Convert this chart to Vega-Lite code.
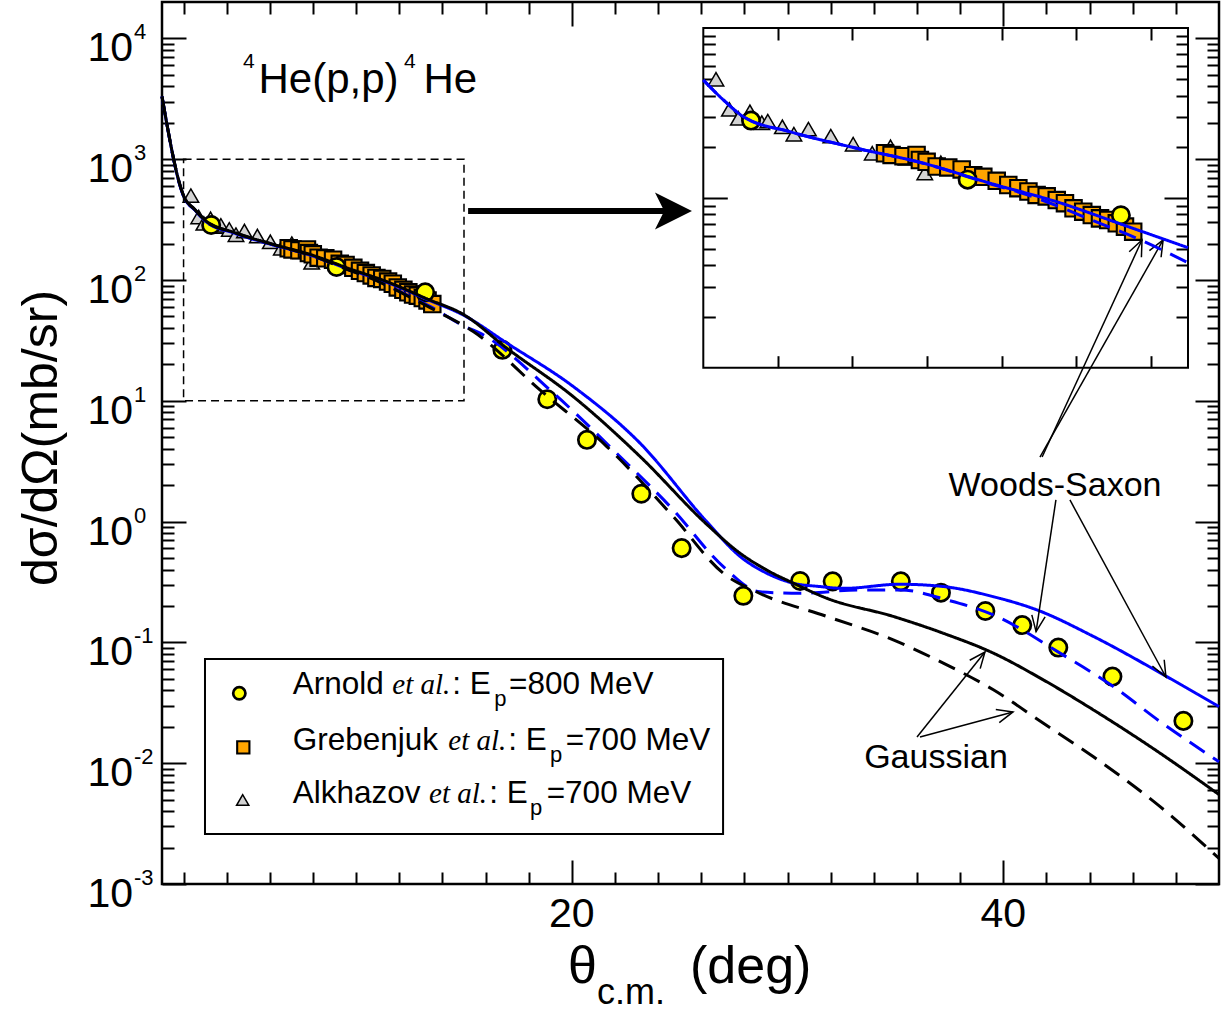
{
  "$schema": "https://vega.github.io/schema/vega-lite/v6.json",
  "width": 1057,
  "height": 882,
  "autosize": {"type": "none"},
  "padding": {"left": 162, "top": 2, "right": 9, "bottom": 127},
  "background": "white",
  "config": {"view": {"stroke": "black", "strokeWidth": 2.5}, "font": "Liberation Sans"},
  "datasets": {
    "curves": [
      {"model":"WS-a","x":1,"y":3300},{"model":"WS-a","x":2,"y":494},{"model":"WS-a","x":2.54,"y":377},{"model":"WS-a","x":3.07,"y":301},{"model":"WS-a","x":4.33,"y":245},{"model":"WS-a","x":6.11,"y":196},{"model":"WS-a","x":7.9,"y":160},{"model":"WS-a","x":9.69,"y":122},{"model":"WS-a","x":11.48,"y":94.8},{"model":"WS-a","x":13.27,"y":69.2},{"model":"WS-a","x":15,"y":50.9},{"model":"WS-a","x":16.98,"y":30.1},{"model":"WS-a","x":20.07,"y":13.1},{"model":"WS-a","x":23.16,"y":4.46},{"model":"WS-a","x":26.25,"y":1.0},{"model":"WS-a","x":27.8,"y":0.514},{"model":"WS-a","x":29.03,"y":0.374},{"model":"WS-a","x":30.27,"y":0.309},{"model":"WS-a","x":31.5,"y":0.29},{"model":"WS-a","x":32.59,"y":0.28},{"model":"WS-a","x":35.21,"y":0.303},{"model":"WS-a","x":37.22,"y":0.29},{"model":"WS-a","x":39.54,"y":0.239},{"model":"WS-a","x":41.55,"y":0.186},{"model":"WS-a","x":44.18,"y":0.112},{"model":"WS-a","x":47.58,"y":0.0521},{"model":"WS-a","x":50,"y":0.0294},
      {"model":"WS-b","x":1,"y":3300},{"model":"WS-b","x":2,"y":494},{"model":"WS-b","x":2.54,"y":377},{"model":"WS-b","x":3.07,"y":301},{"model":"WS-b","x":4.33,"y":245},{"model":"WS-b","x":6.11,"y":196},{"model":"WS-b","x":7.9,"y":160},{"model":"WS-b","x":9.69,"y":121},{"model":"WS-b","x":10.58,"y":106},{"model":"WS-b","x":12.64,"y":70.8},{"model":"WS-b","x":13.63,"y":57.8},{"model":"WS-b","x":15,"y":41.5},{"model":"WS-b","x":15.74,"y":36.3},{"model":"WS-b","x":19.14,"y":11.6},{"model":"WS-b","x":22.23,"y":3.46},{"model":"WS-b","x":24.7,"y":1.25},{"model":"WS-b","x":27.02,"y":0.424},{"model":"WS-b","x":28.72,"y":0.262},{"model":"WS-b","x":30.58,"y":0.255},{"model":"WS-b","x":33.36,"y":0.272},{"model":"WS-b","x":35.21,"y":0.272},{"model":"WS-b","x":37.38,"y":0.225},{"model":"WS-b","x":39.54,"y":0.169},{"model":"WS-b","x":42.63,"y":0.0815},{"model":"WS-b","x":45.1,"y":0.0431},{"model":"WS-b","x":47.27,"y":0.0221},{"model":"WS-b","x":50,"y":0.0103},
      {"model":"G-a","x":1,"y":3300},{"model":"G-a","x":2,"y":500},{"model":"G-a","x":2.54,"y":380},{"model":"G-a","x":3.07,"y":305},{"model":"G-a","x":4.33,"y":248},{"model":"G-a","x":6.11,"y":198},{"model":"G-a","x":7.9,"y":162},{"model":"G-a","x":9.69,"y":124},{"model":"G-a","x":11.48,"y":96},{"model":"G-a","x":13.27,"y":70},{"model":"G-a","x":15,"y":51.5},{"model":"G-a","x":16.98,"y":27.3},{"model":"G-a","x":20.07,"y":10.8},{"model":"G-a","x":23.16,"y":3.46},{"model":"G-a","x":26.25,"y":0.95},{"model":"G-a","x":27.8,"y":0.547},{"model":"G-a","x":29.0,"y":0.40},{"model":"G-a","x":30.27,"y":0.309},{"model":"G-a","x":31.82,"y":0.232},{"model":"G-a","x":34.9,"y":0.164},{"model":"G-a","x":37.22,"y":0.119},{"model":"G-a","x":39.54,"y":0.0815},{"model":"G-a","x":41.86,"y":0.0489},{"model":"G-a","x":44.18,"y":0.0276},{"model":"G-a","x":47.27,"y":0.0121},{"model":"G-a","x":50,"y":0.0055},
      {"model":"G-b","x":1,"y":3300},{"model":"G-b","x":2,"y":500},{"model":"G-b","x":2.54,"y":380},{"model":"G-b","x":3.07,"y":305},{"model":"G-b","x":4.33,"y":248},{"model":"G-b","x":6.11,"y":198},{"model":"G-b","x":7.9,"y":160},{"model":"G-b","x":9.69,"y":120},{"model":"G-b","x":10.58,"y":105},{"model":"G-b","x":12.64,"y":70},{"model":"G-b","x":13.75,"y":55},{"model":"G-b","x":15.43,"y":37.5},{"model":"G-b","x":18.52,"y":12.3},{"model":"G-b","x":21.62,"y":4.18},{"model":"G-b","x":24.7,"y":1.10},{"model":"G-b","x":27.02,"y":0.374},{"model":"G-b","x":28.6,"y":0.26},{"model":"G-b","x":31.82,"y":0.164},{"model":"G-b","x":34.9,"y":0.105},{"model":"G-b","x":37.22,"y":0.0673},{"model":"G-b","x":39.54,"y":0.0405},{"model":"G-b","x":41.86,"y":0.0214},{"model":"G-b","x":44.18,"y":0.0113},{"model":"G-b","x":47.27,"y":0.00437},{"model":"G-b","x":50,"y":0.00163}
    ],
    "obs": [
      {"set":"Alkhazov","x":2.34,"y":499},{"set":"Alkhazov","x":2.70,"y":332},{"set":"Alkhazov","x":2.94,"y":294},{"set":"Alkhazov","x":3.25,"y":321},{"set":"Alkhazov","x":3.57,"y":277},{"set":"Alkhazov","x":3.73,"y":283},{"set":"Alkhazov","x":4.12,"y":262},{"set":"Alkhazov","x":4.43,"y":237},{"set":"Alkhazov","x":4.82,"y":254},{"set":"Alkhazov","x":5.42,"y":231},{"set":"Alkhazov","x":6.02,"y":207},{"set":"Alkhazov","x":6.53,"y":183},{"set":"Alkhazov","x":7.02,"y":200},{"set":"Alkhazov","x":7.44,"y":171},{"set":"Alkhazov","x":7.94,"y":140},{"set":"Alkhazov","x":8.37,"y":161},
      {"set":"Grebenjuk","x":6.874,"y":183},{"set":"Grebenjuk","x":7.05,"y":179},{"set":"Grebenjuk","x":7.37,"y":176},{"set":"Grebenjuk","x":7.72,"y":179},{"set":"Grebenjuk","x":7.81,"y":167},{"set":"Grebenjuk","x":7.99,"y":163},{"set":"Grebenjuk","x":8.26,"y":153},{"set":"Grebenjuk","x":8.57,"y":151},{"set":"Grebenjuk","x":8.93,"y":147},{"set":"Grebenjuk","x":9.24,"y":136},{"set":"Grebenjuk","x":9.51,"y":133},{"set":"Grebenjuk","x":9.87,"y":126},{"set":"Grebenjuk","x":10.18,"y":119},{"set":"Grebenjuk","x":10.45,"y":114},{"set":"Grebenjuk","x":10.72,"y":109},{"set":"Grebenjuk","x":10.94,"y":104},{"set":"Grebenjuk","x":11.21,"y":102},{"set":"Grebenjuk","x":11.48,"y":97},{"set":"Grebenjuk","x":11.70,"y":93},{"set":"Grebenjuk","x":11.93,"y":86.8},{"set":"Grebenjuk","x":12.19,"y":82.9},{"set":"Grebenjuk","x":12.42,"y":79.2},{"set":"Grebenjuk","x":12.64,"y":75.7},{"set":"Grebenjuk","x":12.86,"y":74.1},{"set":"Grebenjuk","x":13.09,"y":70.8},{"set":"Grebenjuk","x":13.31,"y":67.7},{"set":"Grebenjuk","x":13.53,"y":63.2},
      {"set":"Arnold","x":3.28,"y":285},{"set":"Arnold","x":9.09,"y":128},{"set":"Arnold","x":13.2,"y":79},{"set":"Arnold","x":16.78,"y":26.4},{"set":"Arnold","x":18.86,"y":10.3},{"set":"Arnold","x":20.70,"y":4.75},{"set":"Arnold","x":23.22,"y":1.70},{"set":"Arnold","x":25.09,"y":0.603},{"set":"Arnold","x":27.95,"y":0.243},{"set":"Arnold","x":30.58,"y":0.322},{"set":"Arnold","x":32.09,"y":0.32},{"set":"Arnold","x":35.25,"y":0.32},{"set":"Arnold","x":37.11,"y":0.258},{"set":"Arnold","x":39.17,"y":0.182},{"set":"Arnold","x":40.88,"y":0.139},{"set":"Arnold","x":42.55,"y":0.0906},{"set":"Arnold","x":45.06,"y":0.0521},{"set":"Arnold","x":48.35,"y":0.0224}
    ],
    "legsym": [
      {"set":"Arnold","x":4.584,"y":0.0379},{"set":"Grebenjuk","x":4.769,"y":0.013535},{"set":"Alkhazov","x":4.741,"y":0.004959}
    ],
    "arrows": [
      {"x":36.00,"y":0.01648,"x2":39.15,"y2":0.0833,"dir":-51.3},
      {"x":36.14,"y":0.01648,"x2":40.45,"y2":0.02655,"dir":-15.0},
      {"x":42.44,"y":1.510,"x2":41.52,"y2":0.1226,"dir":98.6},
      {"x":43.09,"y":1.510,"x2":47.54,"y2":0.05169,"dir":61.5},
      {"x":41.80,"y":3.424,"x2":46.43,"y2":214.3,"dir":-65.3},
      {"x":41.70,"y":3.424,"x2":47.41,"y2":214.3,"dir":-60.45}
    ],
    "texts": [
      {"role":"title","x":5.474,"y":3510,"t":"He(p,p)"},
      {"role":"title","x":13.123,"y":3510,"t":"He"},
      {"role":"titleSup","x":4.755,"y":5652,"t":"4"},
      {"role":"titleSup","x":12.22,"y":5652,"t":"4"},
      {"role":"leg","x":7.059,"y":0.03718,"t":"Arnold"},
      {"role":"legIt","x":11.677,"y":0.03718,"t":"et al."},
      {"role":"leg","x":14.458,"y":0.03718,"t":": E"},
      {"role":"legSub","x":16.405,"y":0.02958,"t":"p"},
      {"role":"leg","x":17.087,"y":0.03718,"t":"=800 MeV"},
      {"role":"leg","x":7.059,"y":0.012858,"t":"Grebenjuk"},
      {"role":"legIt","x":14.273,"y":0.012858,"t":"et al."},
      {"role":"leg","x":17.054,"y":0.012858,"t":": E"},
      {"role":"legSub","x":18.987,"y":0.010233,"t":"p"},
      {"role":"leg","x":19.715,"y":0.012858,"t":"=700 MeV"},
      {"role":"leg","x":7.059,"y":0.004656,"t":"Alkhazov"},
      {"role":"legIt","x":13.378,"y":0.004656,"t":"et al."},
      {"role":"leg","x":16.173,"y":0.004656,"t":": E"},
      {"role":"legSub","x":18.060,"y":0.003704,"t":"p"},
      {"role":"leg","x":18.834,"y":0.004656,"t":"=700 MeV"},
      {"role":"note","x":42.40,"y":1.628,"t":"Woods-Saxon"},
      {"role":"note","x":36.88,"y":0.009073,"t":"Gaussian"},
      {"role":"xtitle","x":19.822,"y":0.00015155,"t":"θ"},
      {"role":"xtitle","x":25.477,"y":0.00015155,"t":"(deg)"},
      {"role":"xtitleSub","x":21.166,"y":0.00010155,"t":"c.m."},
      {"role":"ytitle","x":-4.563,"y":4.92,"t":"dσ/dΩ(mb/sr)"}
    ],
    "decades": [
      {"y":0.001,"e":"-3"},{"y":0.01,"e":"-2"},{"y":0.1,"e":"-1"},{"y":1,"e":"0"},{"y":10,"e":"1"},{"y":100,"e":"2"},{"y":1000,"e":"3"},{"y":10000,"e":"4"}
    ],
    "xticks": [{"x":20,"t":"20"},{"x":40,"t":"40"}]
  },
  "layer": [
    {
      "layer": [
        {
          "data": {"name": "obs"},
          "mark": {"type": "point", "filled": true, "stroke": "black", "opacity": 1},
          "encoding": {
            "x": {"field": "x", "type": "quantitative", "scale": {"domain": [1, 50], "nice": false, "zero": false},
              "axis": {"orient": "top", "values": [2,4,6,8,10,12,14,16,18,20,22,24,26,28,30,32,34,36,38,40,42,44,46,48], "labels": false, "domain": false, "grid": false, "title": null, "tickColor": "black", "tickWidth": 2, "tickSize": {"condition": {"test": "datum.value % 20 === 0", "value": -24}, "value": -12}}},
            "y": {"field": "y", "type": "quantitative", "scale": {"type": "log", "domain": [0.001, 20000], "nice": false},
              "axis": {"orient": "right", "values": [0.001,0.002,0.003,0.004,0.005,0.006,0.007,0.008,0.009,0.01,0.02,0.03,0.04,0.05,0.06,0.07,0.08,0.09,0.1,0.2,0.3,0.4,0.5,0.6,0.7,0.8,0.9,1,2,3,4,5,6,7,8,9,10,20,30,40,50,60,70,80,90,100,200,300,400,500,600,700,800,900,1000,2000,3000,4000,5000,6000,7000,8000,9000,10000], "labels": false, "domain": false, "grid": false, "title": null, "tickColor": "black", "tickWidth": 2, "tickSize": {"condition": {"test": "abs(log(datum.value)/LN10 - round(log(datum.value)/LN10)) < 0.001", "value": -24}, "value": -12}}},
            "shape": {"field": "set", "type": "nominal", "scale": {"domain": ["Arnold","Grebenjuk","Alkhazov"], "range": ["circle","square","triangle-up"]}, "legend": null},
            "fill": {"field": "set", "type": "nominal", "scale": {"domain": ["Arnold","Grebenjuk","Alkhazov"], "range": ["#ffff00","#ffa500","#d3d3d3"]}, "legend": null},
            "size": {"field": "set", "type": "nominal", "scale": {"domain": ["Arnold","Grebenjuk","Alkhazov"], "range": [300,240,380]}, "legend": null},
            "strokeWidth": {"field": "set", "type": "nominal", "scale": {"domain": ["Arnold","Grebenjuk","Alkhazov"], "range": [2.7,1.5,1.5]}, "legend": null}
          }
        },
        {
          "data": {"name": "curves"},
          "mark": {"type": "line", "strokeWidth": 3, "interpolate": "monotone"},
          "encoding": {
            "x": {"field": "x", "type": "quantitative", "scale": {"domain": [1, 50], "nice": false, "zero": false},
              "axis": {"orient": "bottom", "values": [2,4,6,8,10,12,14,16,18,20,22,24,26,28,30,32,34,36,38,40,42,44,46,48], "labels": false, "domain": false, "grid": false, "title": null, "tickColor": "black", "tickWidth": 2, "tickSize": {"condition": {"test": "datum.value % 20 === 0", "value": -24}, "value": -12}}},
            "y": {"field": "y", "type": "quantitative", "scale": {"type": "log", "domain": [0.001, 20000], "nice": false},
              "axis": {"orient": "left", "values": [0.001,0.002,0.003,0.004,0.005,0.006,0.007,0.008,0.009,0.01,0.02,0.03,0.04,0.05,0.06,0.07,0.08,0.09,0.1,0.2,0.3,0.4,0.5,0.6,0.7,0.8,0.9,1,2,3,4,5,6,7,8,9,10,20,30,40,50,60,70,80,90,100,200,300,400,500,600,700,800,900,1000,2000,3000,4000,5000,6000,7000,8000,9000,10000], "labels": false, "domain": false, "grid": false, "title": null, "tickColor": "black", "tickWidth": 2, "tickSize": {"condition": {"test": "abs(log(datum.value)/LN10 - round(log(datum.value)/LN10)) < 0.001", "value": -24}, "value": -12}}},
            "color": {"field": "model", "type": "nominal", "scale": {"domain": ["WS-a","WS-b","G-a","G-b"], "range": ["#0000ff","#0000ff","#000000","#000000"]}, "legend": null},
            "strokeDash": {"field": "model", "type": "nominal", "scale": {"domain": ["WS-a","WS-b","G-a","G-b"], "range": [[1,0],[18,10],[1,0],[18,10]]}, "legend": null}
          }
        },
        {
          "data": {"values": [{}]},
          "mark": {"type": "rect", "filled": false, "stroke": "black", "strokeWidth": 1.5, "strokeDash": [8, 5]},
          "encoding": {
            "x": {"datum": 2, "type": "quantitative", "scale": {"domain": [1, 50], "nice": false, "zero": false}, "axis": null},
            "x2": {"datum": 15},
            "y": {"datum": 10, "type": "quantitative", "scale": {"type": "log", "domain": [0.001, 20000], "nice": false}, "axis": null},
            "y2": {"datum": 1000}
          }
        },
        {
          "data": {"values": [{}]},
          "mark": {"type": "rule", "stroke": "black", "strokeWidth": 6},
          "encoding": {
            "x": {"datum": 15.19, "type": "quantitative", "scale": {"domain": [1, 50], "nice": false, "zero": false}, "axis": null},
            "x2": {"datum": 24.32},
            "y": {"datum": 372.4, "type": "quantitative", "scale": {"type": "log", "domain": [0.001, 20000], "nice": false}, "axis": null}
          }
        },
        {
          "data": {"values": [{}]},
          "mark": {"type": "point", "shape": "M1,0L-1,-1L-0.5,0L-1,1Z", "filled": true, "fill": "black", "stroke": null, "size": 1369, "opacity": 1},
          "encoding": {
            "x": {"datum": 24.71, "type": "quantitative", "scale": {"domain": [1, 50], "nice": false, "zero": false}, "axis": null},
            "y": {"datum": 372.4, "type": "quantitative", "scale": {"type": "log", "domain": [0.001, 20000], "nice": false}, "axis": null}
          }
        },
        {
          "data": {"name": "arrows"},
          "mark": {"type": "rule", "stroke": "black", "strokeWidth": 1.5},
          "encoding": {
            "x": {"field": "x", "type": "quantitative", "scale": {"domain": [1, 50], "nice": false, "zero": false}, "axis": null},
            "y": {"field": "y", "type": "quantitative", "scale": {"type": "log", "domain": [0.001, 20000], "nice": false}, "axis": null},
            "x2": {"field": "x2"},
            "y2": {"field": "y2"}
          }
        },
        {
          "data": {"name": "arrows"},
          "mark": {"type": "point", "shape": "M-1,-0.42L0,0L-1,0.42", "filled": false, "stroke": "black", "strokeWidth": 1.5, "size": 1024, "opacity": 1},
          "encoding": {
            "x": {"field": "x2", "type": "quantitative", "scale": {"domain": [1, 50], "nice": false, "zero": false}, "axis": null},
            "y": {"field": "y2", "type": "quantitative", "scale": {"type": "log", "domain": [0.001, 20000], "nice": false}, "axis": null},
            "angle": {"field": "dir", "type": "quantitative", "scale": null}
          }
        },
        {
          "data": {"values": [{}]},
          "mark": {"type": "rect", "filled": false, "stroke": "black", "strokeWidth": 2},
          "encoding": {
            "x": {"datum": 2.993, "type": "quantitative", "scale": {"domain": [1, 50], "nice": false, "zero": false}, "axis": null},
            "x2": {"datum": 27.01},
            "y": {"datum": 0.07287, "type": "quantitative", "scale": {"type": "log", "domain": [0.001, 20000], "nice": false}, "axis": null},
            "y2": {"datum": 0.002594}
          }
        },
        {
          "data": {"name": "legsym"},
          "mark": {"type": "point", "filled": true, "stroke": "black", "size": 150, "opacity": 1},
          "encoding": {
            "x": {"field": "x", "type": "quantitative", "scale": {"domain": [1, 50], "nice": false, "zero": false}, "axis": null},
            "y": {"field": "y", "type": "quantitative", "scale": {"type": "log", "domain": [0.001, 20000], "nice": false}, "axis": null},
            "shape": {"field": "set", "type": "nominal", "legend": null},
            "fill": {"field": "set", "type": "nominal", "legend": null},
            "strokeWidth": {"field": "set", "type": "nominal", "legend": null}
          }
        },
        {
          "data": {"name": "texts"},
          "transform": [{"filter": "datum.role === 'title'"}],
          "mark": {"type": "text", "font": "Liberation Sans", "fontSize": 42, "align": "left", "baseline": "alphabetic", "color": "black"},
          "encoding": {
            "x": {"field": "x", "type": "quantitative", "scale": {"domain": [1, 50], "nice": false, "zero": false}, "axis": null},
            "y": {"field": "y", "type": "quantitative", "scale": {"type": "log", "domain": [0.001, 20000], "nice": false}, "axis": null},
            "text": {"field": "t"}
          }
        },
        {
          "data": {"name": "texts"},
          "transform": [{"filter": "datum.role === 'titleSup'"}],
          "mark": {"type": "text", "font": "Liberation Sans", "fontSize": 21, "align": "left", "baseline": "alphabetic", "color": "black"},
          "encoding": {
            "x": {"field": "x", "type": "quantitative", "scale": {"domain": [1, 50], "nice": false, "zero": false}, "axis": null},
            "y": {"field": "y", "type": "quantitative", "scale": {"type": "log", "domain": [0.001, 20000], "nice": false}, "axis": null},
            "text": {"field": "t"}
          }
        },
        {
          "data": {"name": "texts"},
          "transform": [{"filter": "datum.role === 'leg'"}],
          "mark": {"type": "text", "font": "Liberation Sans", "fontSize": 31.5, "align": "left", "baseline": "alphabetic", "color": "black"},
          "encoding": {
            "x": {"field": "x", "type": "quantitative", "scale": {"domain": [1, 50], "nice": false, "zero": false}, "axis": null},
            "y": {"field": "y", "type": "quantitative", "scale": {"type": "log", "domain": [0.001, 20000], "nice": false}, "axis": null},
            "text": {"field": "t"}
          }
        },
        {
          "data": {"name": "texts"},
          "transform": [{"filter": "datum.role === 'legIt'"}],
          "mark": {"type": "text", "font": "Liberation Serif", "fontStyle": "italic", "fontSize": 29, "align": "left", "baseline": "alphabetic", "color": "black"},
          "encoding": {
            "x": {"field": "x", "type": "quantitative", "scale": {"domain": [1, 50], "nice": false, "zero": false}, "axis": null},
            "y": {"field": "y", "type": "quantitative", "scale": {"type": "log", "domain": [0.001, 20000], "nice": false}, "axis": null},
            "text": {"field": "t"}
          }
        },
        {
          "data": {"name": "texts"},
          "transform": [{"filter": "datum.role === 'legSub'"}],
          "mark": {"type": "text", "font": "Liberation Sans", "fontSize": 22, "align": "left", "baseline": "alphabetic", "color": "black"},
          "encoding": {
            "x": {"field": "x", "type": "quantitative", "scale": {"domain": [1, 50], "nice": false, "zero": false}, "axis": null},
            "y": {"field": "y", "type": "quantitative", "scale": {"type": "log", "domain": [0.001, 20000], "nice": false}, "axis": null},
            "text": {"field": "t"}
          }
        },
        {
          "data": {"name": "texts"},
          "transform": [{"filter": "datum.role === 'note'"}],
          "mark": {"type": "text", "font": "Liberation Sans", "fontSize": 34, "align": "center", "baseline": "alphabetic", "color": "black"},
          "encoding": {
            "x": {"field": "x", "type": "quantitative", "scale": {"domain": [1, 50], "nice": false, "zero": false}, "axis": null},
            "y": {"field": "y", "type": "quantitative", "scale": {"type": "log", "domain": [0.001, 20000], "nice": false}, "axis": null},
            "text": {"field": "t"}
          }
        },
        {
          "data": {"name": "texts"},
          "transform": [{"filter": "datum.role === 'xtitle'"}],
          "mark": {"type": "text", "font": "Liberation Sans", "fontSize": 52, "align": "left", "baseline": "alphabetic", "color": "black"},
          "encoding": {
            "x": {"field": "x", "type": "quantitative", "scale": {"domain": [1, 50], "nice": false, "zero": false}, "axis": null},
            "y": {"field": "y", "type": "quantitative", "scale": {"type": "log", "domain": [0.001, 20000], "nice": false}, "axis": null},
            "text": {"field": "t"}
          }
        },
        {
          "data": {"name": "texts"},
          "transform": [{"filter": "datum.role === 'xtitleSub'"}],
          "mark": {"type": "text", "font": "Liberation Sans", "fontSize": 36, "align": "left", "baseline": "alphabetic", "color": "black"},
          "encoding": {
            "x": {"field": "x", "type": "quantitative", "scale": {"domain": [1, 50], "nice": false, "zero": false}, "axis": null},
            "y": {"field": "y", "type": "quantitative", "scale": {"type": "log", "domain": [0.001, 20000], "nice": false}, "axis": null},
            "text": {"field": "t"}
          }
        },
        {
          "data": {"name": "texts"},
          "transform": [{"filter": "datum.role === 'ytitle'"}],
          "mark": {"type": "text", "font": "Liberation Sans", "fontSize": 50, "align": "center", "baseline": "middle", "angle": 270, "color": "black"},
          "encoding": {
            "x": {"field": "x", "type": "quantitative", "scale": {"domain": [1, 50], "nice": false, "zero": false}, "axis": null},
            "y": {"field": "y", "type": "quantitative", "scale": {"type": "log", "domain": [0.001, 20000], "nice": false}, "axis": null},
            "text": {"field": "t"}
          }
        },
        {
          "data": {"name": "decades"},
          "mark": {"type": "text", "text": "10", "font": "Liberation Sans", "fontSize": 41, "align": "right", "baseline": "alphabetic", "dx": -29, "dy": 23, "color": "black"},
          "encoding": {
            "x": {"datum": 1, "type": "quantitative", "scale": {"domain": [1, 50], "nice": false, "zero": false}, "axis": null},
            "y": {"field": "y", "type": "quantitative", "scale": {"type": "log", "domain": [0.001, 20000], "nice": false}, "axis": null}
          }
        },
        {
          "data": {"name": "decades"},
          "mark": {"type": "text", "font": "Liberation Sans", "fontSize": 22, "align": "left", "baseline": "alphabetic", "dx": -28, "dy": 1, "color": "black"},
          "encoding": {
            "x": {"datum": 1, "type": "quantitative", "scale": {"domain": [1, 50], "nice": false, "zero": false}, "axis": null},
            "y": {"field": "y", "type": "quantitative", "scale": {"type": "log", "domain": [0.001, 20000], "nice": false}, "axis": null},
            "text": {"field": "e"}
          }
        },
        {
          "data": {"name": "xticks"},
          "mark": {"type": "text", "font": "Liberation Sans", "fontSize": 41, "align": "center", "baseline": "alphabetic", "dy": 43, "color": "black"},
          "encoding": {
            "x": {"field": "x", "type": "quantitative", "scale": {"domain": [1, 50], "nice": false, "zero": false}, "axis": null},
            "y": {"datum": 0.001, "type": "quantitative", "scale": {"type": "log", "domain": [0.001, 20000], "nice": false}, "axis": null},
            "text": {"field": "t"}
          }
        }
      ],
      "resolve": {"axis": {"x": "independent", "y": "independent"}}
    },
    {
      "layer": [
        {
          "data": {"values": [{}]},
          "mark": {"type": "rect", "filled": false, "stroke": "black", "strokeWidth": 2},
          "encoding": {
            "x": {"datum": 2, "type": "quantitative", "scale": {"domain": [2, 15], "nice": false, "zero": false, "range": [541.3, 1026]},
              "axis": {"orient": "bottom", "offset": -516.3, "values": [4,6,8,10,12,14], "labels": false, "domain": false, "grid": false, "title": null, "tickColor": "black", "tickWidth": 2, "tickSize": -12}},
            "x2": {"datum": 15},
            "y": {"datum": 10, "type": "quantitative", "scale": {"type": "log", "domain": [10, 1000], "nice": false, "range": [365.7, 26]},
              "axis": {"orient": "left", "offset": -541.3, "values": [20,30,40,50,60,70,80,90,100,200,300,400,500,600,700,800,900], "labels": false, "domain": false, "grid": false, "title": null, "tickColor": "black", "tickWidth": 2, "tickSize": {"condition": {"test": "datum.value === 100", "value": -24}, "value": -12}}},
            "y2": {"datum": 1000}
          }
        },
        {
          "data": {"name": "obs"},
          "transform": [{"filter": "datum.x <= 15"}],
          "mark": {"type": "point", "filled": true, "stroke": "black", "opacity": 1},
          "encoding": {
            "x": {"field": "x", "type": "quantitative", "scale": {"domain": [2, 15], "nice": false, "zero": false, "range": [541.3, 1026]},
              "axis": {"orient": "top", "offset": -26, "values": [4,6,8,10,12,14], "labels": false, "domain": false, "grid": false, "title": null, "tickColor": "black", "tickWidth": 2, "tickSize": -12}},
            "y": {"field": "y", "type": "quantitative", "scale": {"type": "log", "domain": [10, 1000], "nice": false, "range": [365.7, 26]},
              "axis": {"orient": "right", "offset": -31, "values": [20,30,40,50,60,70,80,90,100,200,300,400,500,600,700,800,900], "labels": false, "domain": false, "grid": false, "title": null, "tickColor": "black", "tickWidth": 2, "tickSize": {"condition": {"test": "datum.value === 100", "value": -24}, "value": -12}}},
            "shape": {"field": "set", "type": "nominal", "legend": null},
            "fill": {"field": "set", "type": "nominal", "legend": null},
            "size": {"field": "set", "type": "nominal", "legend": null},
            "strokeWidth": {"field": "set", "type": "nominal", "legend": null}
          }
        },
        {
          "data": {"name": "curves"},
          "transform": [{"filter": "(datum.model === 'WS-a' || datum.model === 'WS-b') && datum.x >= 2 && datum.x <= 15"}],
          "mark": {"type": "line", "strokeWidth": 3, "interpolate": "monotone"},
          "encoding": {
            "x": {"field": "x", "type": "quantitative", "scale": {"domain": [2, 15], "nice": false, "zero": false, "range": [541.3, 1026]}, "axis": null},
            "y": {"field": "y", "type": "quantitative", "scale": {"type": "log", "domain": [10, 1000], "nice": false, "range": [365.7, 26]}, "axis": null},
            "color": {"field": "model", "type": "nominal", "legend": null},
            "strokeDash": {"field": "model", "type": "nominal", "legend": null}
          }
        }
      ],
      "resolve": {"axis": {"x": "independent", "y": "independent"}}
    }
  ],
  "resolve": {"scale": {"x": "independent", "y": "independent"}, "axis": {"x": "independent", "y": "independent"}}
}
